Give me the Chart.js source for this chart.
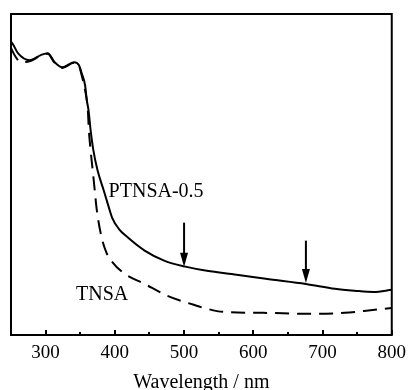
<!DOCTYPE html>
<html>
<head>
<meta charset="utf-8">
<script src="https://cdn.jsdelivr.net/npm/chart.js@4.4.0/dist/chart.umd.min.js"></script>
<style>
  html, body { margin: 0; padding: 0; background: #fff; }
</style>
</head>
<body>
<canvas id="chart" width="415" height="390"></canvas>
<script>
// UV-vis spectra, arbitrary absorbance units (0..1)
const ptnsaWave = [250, 253, 260, 277, 293, 303, 313, 324, 341, 348, 352, 357, 359.5, 362, 365, 369, 375, 384, 391, 396, 406, 418, 443, 472, 502, 533, 576, 618, 676, 718, 746, 774, 800];
const ptnsaAbs  = [0.913, 0.905, 0.878, 0.856, 0.872, 0.878, 0.850, 0.834, 0.850, 0.841, 0.816, 0.778, 0.731, 0.700, 0.638, 0.575, 0.513, 0.450, 0.400, 0.366, 0.330, 0.305, 0.263, 0.231, 0.213, 0.200, 0.188, 0.175, 0.159, 0.144, 0.138, 0.134, 0.141];

const tnsaWave = [250, 256, 264, 277, 293, 303, 313, 324, 341, 348, 352, 357, 361, 362.5, 365, 368, 371, 374, 381, 388, 395, 412, 443, 476, 514, 529, 557, 614, 685, 732, 760, 800];
const tnsaAbs  = [0.894, 0.869, 0.850, 0.853, 0.870, 0.876, 0.848, 0.832, 0.848, 0.839, 0.810, 0.763, 0.700, 0.638, 0.575, 0.513, 0.450, 0.388, 0.303, 0.256, 0.231, 0.194, 0.159, 0.122, 0.094, 0.084, 0.072, 0.069, 0.066, 0.069, 0.075, 0.084];

const majorTicks = [300, 400, 500, 600, 700, 800];
const minorTicks = [350, 450, 550, 650, 750];

// arrows pointing at the PTNSA-0.5 curve
const arrowWave = [500, 676];
const arrowFrom = [0.350, 0.294];
const arrowTo   = [0.213, 0.162];

const curveNames = ['PTNSA-0.5', 'TNSA'];
const nameWave   = [391, 344];
const nameAbs    = [0.431, 0.109];

const SERIF = '"Liberation Serif", "Times New Roman", serif';

const toPoints = (xs, ys) => xs.map((x, i) => ({ x, y: ys[i] }));

const framePlugin = {
  id: 'frame',
  afterDraw(chart) {
    const { ctx, chartArea: a, scales: { x, y } } = chart;
    ctx.save();
    ctx.strokeStyle = '#000';
    ctx.fillStyle = '#000';
    ctx.lineWidth = 2;
    ctx.strokeRect(a.left, a.top, a.right - a.left, a.bottom - a.top);

    // inward ticks on the bottom axis
    ctx.beginPath();
    majorTicks.forEach(v => {
      const px = Math.round(x.getPixelForValue(v));
      ctx.moveTo(px, a.bottom);
      ctx.lineTo(px, a.bottom - 5);
    });
    minorTicks.forEach(v => {
      const px = Math.round(x.getPixelForValue(v));
      ctx.moveTo(px, a.bottom);
      ctx.lineTo(px, a.bottom - 3);
    });
    ctx.stroke();

    // arrows
    arrowWave.forEach((w, i) => {
      const px = x.getPixelForValue(w);
      const y0 = y.getPixelForValue(arrowFrom[i]);
      const y1 = y.getPixelForValue(arrowTo[i]);
      ctx.beginPath();
      ctx.moveTo(px, y0);
      ctx.lineTo(px, y1 - 10);
      ctx.stroke();
      ctx.beginPath();
      ctx.moveTo(px - 4, y1 - 14);
      ctx.lineTo(px + 4, y1 - 14);
      ctx.lineTo(px, y1);
      ctx.closePath();
      ctx.fill();
    });

    // curve names
    ctx.font = '20px ' + SERIF;
    ctx.textBaseline = 'alphabetic';
    ctx.textAlign = 'left';
    curveNames.forEach((t, i) => {
      ctx.fillText(t, x.getPixelForValue(nameWave[i]), y.getPixelForValue(nameAbs[i]));
    });
    ctx.restore();
  }
};

new Chart(document.getElementById('chart'), {
  type: 'line',
  data: {
    datasets: [
      {
        label: 'PTNSA-0.5',
        data: toPoints(ptnsaWave, ptnsaAbs),
        borderColor: '#000',
        borderWidth: 2,
        pointRadius: 0,
        cubicInterpolationMode: 'monotone',
        fill: false,
      },
      {
        label: 'TNSA',
        data: toPoints(tnsaWave, tnsaAbs),
        borderColor: '#000',
        borderWidth: 2,
        borderDash: [14, 8],
        pointRadius: 0,
        cubicInterpolationMode: 'monotone',
        fill: false,
      },
    ],
  },
  options: {
    responsive: false,
    animation: false,
    layout: { padding: { left: 11, right: 17, top: 14, bottom: 0 } },
    plugins: { legend: { display: false }, tooltip: { enabled: false } },
    scales: {
      x: {
        type: 'linear',
        min: 250,
        max: 800,
        afterBuildTicks: s => { s.ticks = majorTicks.map(v => ({ value: v })); },
        grid: { display: false, drawTicks: false },
        border: { display: false },
        ticks: {
          color: '#000',
          padding: 9,
          maxRotation: 0,
          autoSkip: false,
          font: { family: SERIF, size: 19, lineHeight: 1 },
        },
        title: {
          display: true,
          text: 'Wavelength / nm',
          color: '#000',
          padding: { top: 1, bottom: -3 },
          font: { family: SERIF, size: 20, lineHeight: 1 },
        },
      },
      y: {
        display: false,
        min: 0,
        max: 1,
      },
    },
  },
  plugins: [framePlugin],
});
</script>
</body>
</html>
